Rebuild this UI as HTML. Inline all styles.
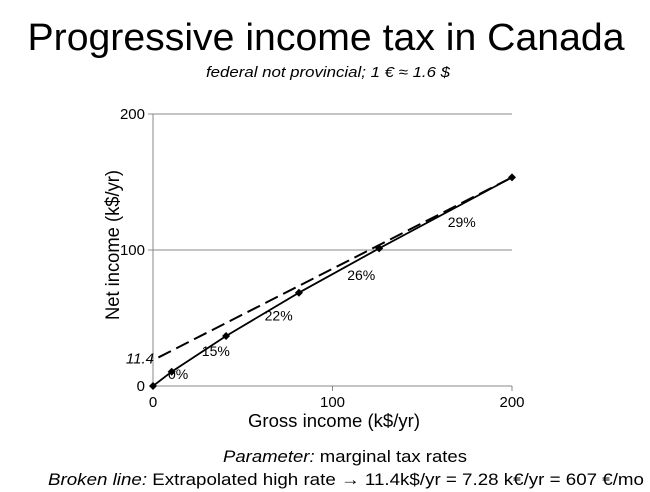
<!DOCTYPE html>
<html><head><meta charset="utf-8"><style>
body{margin:0;background:#fff;}
svg{display:block;font-family:"Liberation Sans",Arial,sans-serif;}
</style></head><body>
<svg id="chart" width="650" height="492" viewBox="0 0 650 492">
<text x="326" y="50" font-size="38" text-anchor="middle" textLength="597" lengthAdjust="spacingAndGlyphs">Progressive income tax in Canada</text>
<text x="328" y="77" font-size="15" font-style="italic" text-anchor="middle" textLength="244" lengthAdjust="spacingAndGlyphs">federal not provincial; 1 € ≈ 1.6 $</text>
<g id="plot"></g>
<text x="334" y="427" font-size="18" text-anchor="middle" textLength="172" lengthAdjust="spacingAndGlyphs">Gross income (k$/yr)</text>
<text transform="translate(119,245) rotate(-90)" font-size="19" text-anchor="middle" textLength="150" lengthAdjust="spacingAndGlyphs">Net income (k$/yr)</text>
<text x="345" y="462" font-size="17" text-anchor="middle" textLength="244" lengthAdjust="spacingAndGlyphs"><tspan font-style="italic">Parameter:</tspan> marginal tax rates</text>
<text x="346" y="485" font-size="17" text-anchor="middle" textLength="596" lengthAdjust="spacingAndGlyphs"><tspan font-style="italic">Broken line:</tspan> Extrapolated high rate → 11.4k$/yr = 7.28 k€/yr = 607 €/mo</text>
</svg>
<script>
const xTicks=[0,100,200];
const yTicks=[0,100,200];
const gross=[0,10.4,40.7,81.3,126,200];
const net=[0,10.5,36.8,68.6,101.2,153.4];
const dashGross=[3,200];
const dashNet=[21,153.4];
const rateLabels=["0%","15%","22%","26%","29%"];
const rateX=[14,35,70,116,172];
const rateY=[5,22,48,78,117];
const NS="http://www.w3.org/2000/svg";
const g=document.getElementById('plot');
const X=v=>153+v*359/200, Y=v=>386-v*272/200;
function mk(t,a){const e=document.createElementNS(NS,t);for(const k in a)e.setAttribute(k,a[k]);g.appendChild(e);return e;}
yTicks.forEach(v=>{
 if(v>0){const l=mk('line',{x1:X(0)-5,x2:X(200),y1:Y(v),y2:Y(v),stroke:'#888','stroke-width':1});
 
 }
 const t=mk('text',{x:X(0)-8,y:Y(v)+5,'font-size':15,'text-anchor':'end'});t.textContent=v;
 
 
});
xTicks.forEach(v=>{
 if(v>0){const l=mk('line',{x1:X(v),x2:X(v),y1:Y(0),y2:Y(0)+5,stroke:'#888','stroke-width':1});
 
 }
 const t=mk('text',{x:X(v),y:Y(0)+21,'font-size':15,'text-anchor':'middle'});t.textContent=v;
 
 
});
const ya=mk('line',{x1:X(0),x2:X(0),y1:Y(200),y2:Y(0),stroke:'#888','stroke-width':1});


const xa=mk('line',{x1:X(0),x2:X(200),y1:Y(0),y2:Y(0),stroke:'#888','stroke-width':1});


const d=mk('polyline',{points:dashGross.map((v,i)=>X(v)+','+Y(dashNet[i])).join(' '),fill:'none',stroke:'#000','stroke-width':2,'stroke-dasharray':'14,6'});


const lbl=mk('text',{x:X(0)+1,y:Y(dashNet[0])+6,'font-size':15,'font-style':'italic','text-anchor':'end'});lbl.textContent='11.4';


const p=mk('polyline',{points:gross.map((v,i)=>X(v)+','+Y(net[i])).join(' '),fill:'none',stroke:'#000','stroke-width':1.8});


gross.forEach((v,i)=>{const cx=X(v),cy=Y(net[i]);
 const m=mk('polygon',{points:`${cx},${cy-4} ${cx+4},${cy} ${cx},${cy+4} ${cx-4},${cy}`,fill:'#000'});
 
 
});
rateLabels.forEach((s,i)=>{const t=mk('text',{x:X(rateX[i]),y:Y(rateY[i]),'font-size':14,'text-anchor':'middle'});t.textContent=s;
 
 
});
</script>
</body></html>
